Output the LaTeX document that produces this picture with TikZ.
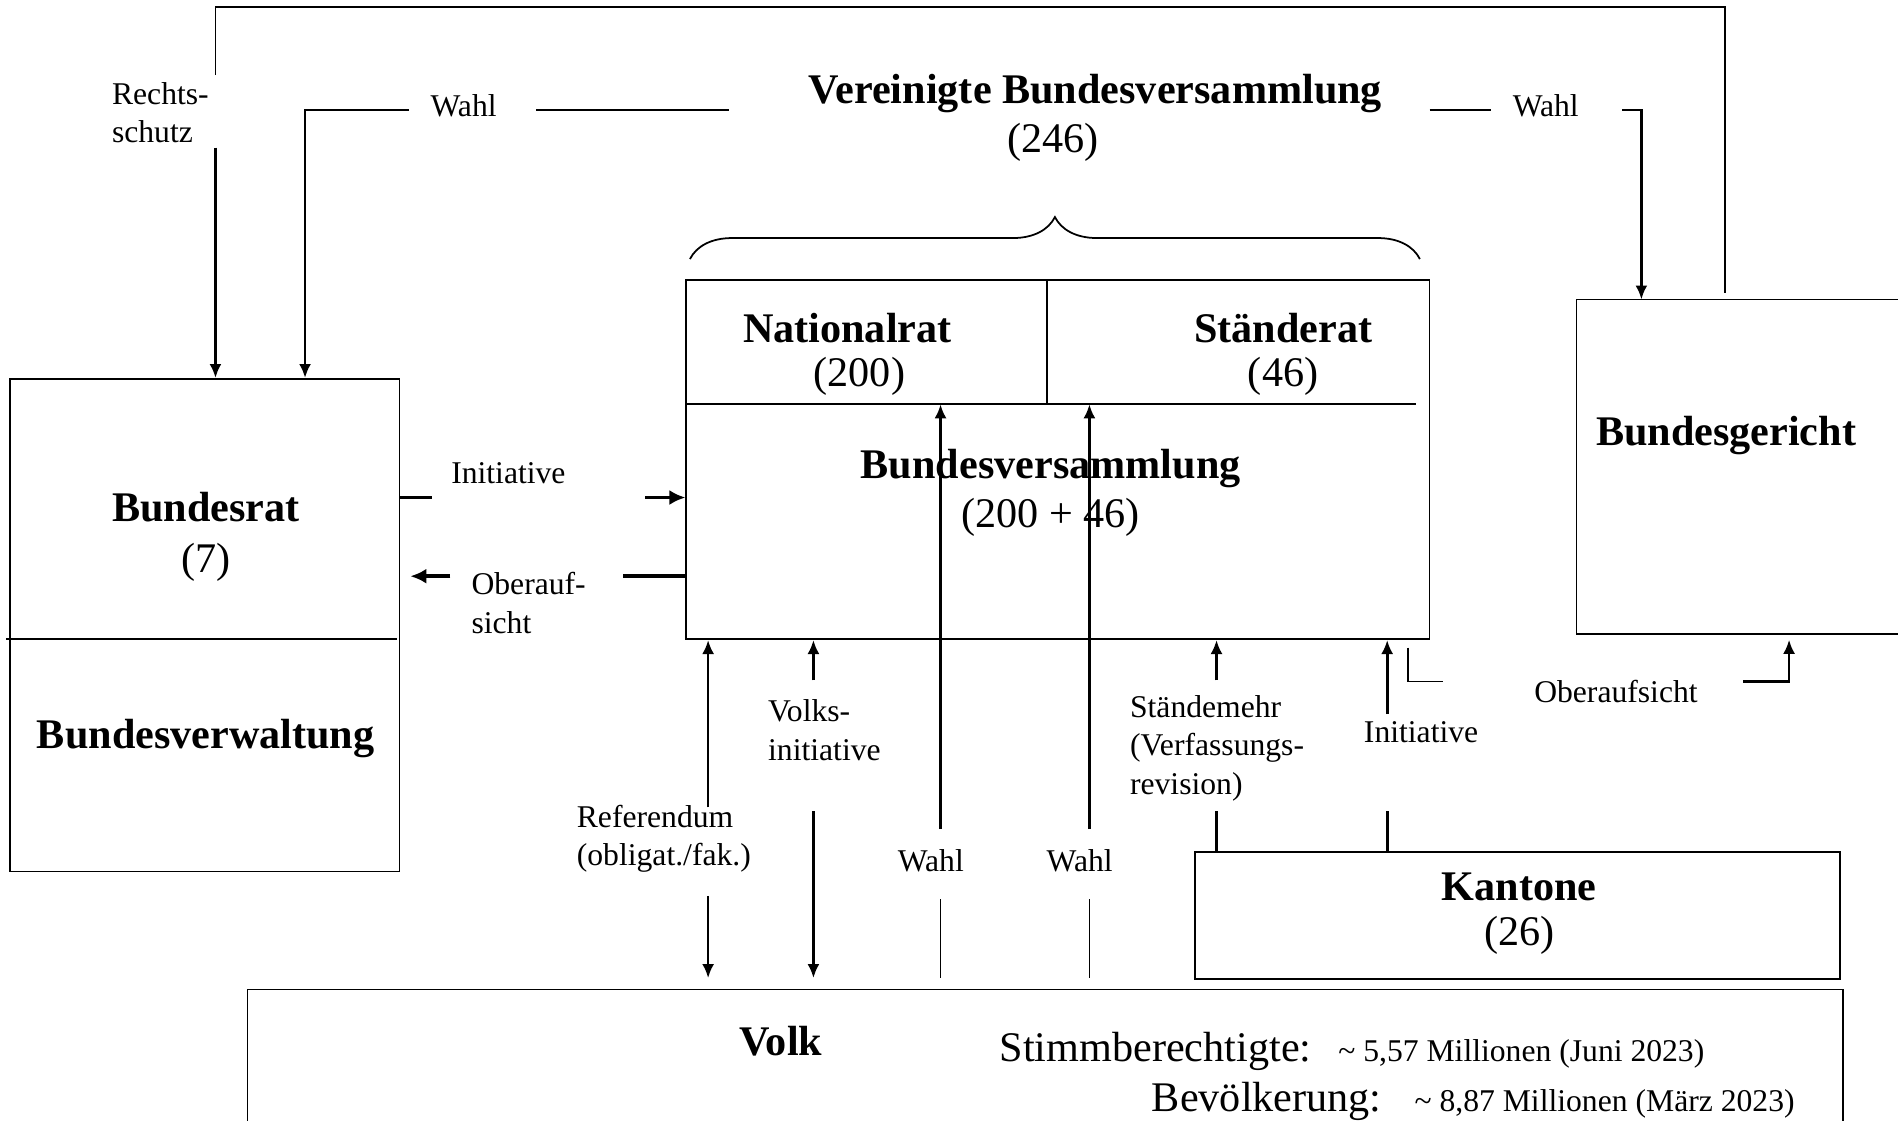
\documentclass[tikz,border=0pt]{standalone}
\usepackage{fontspec}
\setmainfont{Liberation Serif}
\usetikzlibrary{positioning}
\usetikzlibrary{arrows.meta}
\usetikzlibrary{fit}
\usetikzlibrary{decorations.pathreplacing}

\begin{document}
\begin{tikzpicture}[x=0.012105cm, y=-0.012105cm,
  box/.style={draw, line width=0.5pt, inner sep=0pt},
  titel/.style={font=\fontsize{12}{14}\selectfont\bfseries, inner sep=0pt},
  zahl/.style={font=\fontsize{12}{14}\selectfont, inner sep=0pt},
  lab/.style={font=\fontsize{9}{11}\selectfont, inner sep=0pt, align=left},
  klein/.style={font=\fontsize{9}{11}\selectfont, inner sep=0pt},
  linie/.style={line width=0.5pt},
  mittel/.style={line width=0.75pt},
  pfeil/.style={line width=0.75pt, -{Latex[length=1.4mm,width=1.2mm]}},
  dick/.style={line width=1pt},
  dpfeil/.style={line width=1pt, -{Latex[length=1.6mm,width=1.5mm]}}]
\useasboundingbox (0,0) rectangle (1568,926);
%%%%%%%%%%%%%%%%%%%%%%%%%%%%%%%%%%%%%
\node[box, fit={(8,313) (330,720)}] (brat) {};
\node[box, fit={(567,231) (1181,528)}] (bv) {};
\node[inner sep=0pt, fit={(1303,248) (1568,523)}] (bger) {};
\node[box, fit={(987,704) (1520,809)}] (kant) {};
\node[inner sep=0pt, fit={(205,818) (1522,926)}] (volk) {};
%%%%%%%%%%%%%%%%%%%%%%%%%%%%%%%%%%%%%
\node[titel] (tbrat) at (170,419) {Bundesrat};
\node[zahl, below=0.2cm of tbrat] (zbrat) {(7)};
\node[titel] (tbverw) at (170,610) {Bundesverwaltung};
\node[titel] (tnr) at (700,271) {Nationalrat};
\node[zahl] (znr) at (710,311) {(200)};
\node[titel] (tsr) at (1060,271) {Ständerat};
\node[zahl] (zsr) at (1060,311) {(46)};
\node[titel] (tbv) at (868,387) {Bundesversammlung};
\node[zahl] (zbv) at (868,427) {(200 + 46)};
\node[titel] (tvbv) at (905,77) {Vereinigte Bundesversammlung};
\node[zahl] (zvbv) at (870,118) {(246)};
\node[titel] (tbger) at (1426,360) {Bundesgericht};
\node[titel] (tkant) at (1255,733) {Kantone};
\node[zahl] (zkant) at (1255,773) {(26)};
\node[titel] (tvolk) at (645,860) {Volk};
\node[zahl, anchor=base east] (tstimm) at (1084,877) {Stimmberechtigte:};
\node[klein, anchor=base west] (zstimm) at (1105,877) {\textasciitilde{} 5,57 Millionen (Juni 2023)};
\node[zahl, anchor=base east] (tbev) at (1142,918) {Bevölkerung:};
\node[klein, anchor=base west] (zbev) at (1168,918) {\textasciitilde{} 8,87 Millionen (März 2023)};
%%%%%%%%%%%%%%%%%%%%%%%%%%%%%%%%%%%%%
\node[lab, anchor=west] (lrs) at (92,93) {Rechts-\\schutz};
\node[lab] (lwahl1) at (383,87) {Wahl};
\node[lab] (lwahl2) at (1277,87) {Wahl};
\node[lab] (lini1) at (420,391) {Initiative};
\node[lab, anchor=west] (lober1) at (389,498) {Oberauf-\\sicht};
\node[lab, anchor=west] (lref) at (476,693) {Referendum\\(obligat./fak.)};
\node[lab, anchor=west] (lvi) at (634,603) {Volks-\\initiative};
\node[lab] (lwahl3) at (769,711) {Wahl};
\node[lab] (lwahl4) at (892,711) {Wahl};
\node[lab, anchor=west] (lstm) at (933,618) {Ständemehr\\(Verfassungs-\\revision)};
\node[lab] (lini2) at (1174,605) {Initiative};
\node[lab] (lober2) at (1335,571) {Oberaufsicht};
%%%%%%%%%%%%%%%%%%%%%%%%%%%%%%%%%%%%%
\coordinate (rsa) at (178,62);
\coordinate (rsl) at (178,6);
\coordinate (rsr) at (1425,6);
\coordinate (rsb) at (1425,242);
\coordinate (rsc) at (178,122);
\coordinate (wla) at (602,91);
\coordinate (wlb) at (443,91);
\coordinate (wlc) at (338,91);
\coordinate (wld) at (252,91);
\coordinate (wra) at (1181,91);
\coordinate (wrb) at (1232,91);
\coordinate (wrc) at (1340,91);
\coordinate (wrd) at (1356,91);
\coordinate (ini1a) at (357,411);
\coordinate (ini1b) at (533,411);
\coordinate (ober1a) at (515,476);
\coordinate (ober1b) at (372,476);
\coordinate (refa) at (585,667);
\coordinate (refb) at (585,740);
\coordinate (via) at (672,562);
\coordinate (vib) at (672,670);
\coordinate (wnra) at (777,685);
\coordinate (wnrb) at (777,743);
\coordinate (wsra) at (900,685);
\coordinate (wsrb) at (900,743);
\coordinate (stma) at (1005,562);
\coordinate (stmb) at (1005,670);
\coordinate (ini2a) at (1146,590);
\coordinate (ini2b) at (1146,670);
\coordinate (ober2a) at (1163,535);
\coordinate (ober2b) at (1163,563);
\coordinate (ober2c) at (1192,563);
\coordinate (ober2d) at (1440,563);
\coordinate (ober2e) at (1478,563);
\coordinate (nrunten) at (0,334);
\coordinate (ende) at (0,808);
%%%%%%%%%%%%%%%%%%%%%%%%%%%%%%%%%%%%%
\draw[linie] (5,528) -- (328,528);
\draw[linie] (865,231) -- (865,334);
\draw[linie] (567,334) -- (1170,334);
\draw[linie] (bger.north east) -- (bger.north west) -- (bger.south west) -- (bger.south east);
\draw[linie] (volk.south west) -- (volk.north west) -- (volk.north east) -- (volk.south east);
\draw[line width=0.5pt, decorate, decoration={brace, amplitude=0.42cm}] (570,214) -- (1173,214);
%%%%%%%%%%%%%%%%%%%%%%%%%%%%%%%%%%%%%
\draw[linie] (rsa) -- (rsl) -- (rsr) -- (rsb);
\draw[pfeil] (rsc) -- (rsc |- brat.north);
\draw[linie] (wla) -- (wlb);
\draw[pfeil] (wlc) -- (wld) -- (wld |- brat.north);
\draw[linie] (wra) -- (wrb);
\draw[pfeil] (wrc) -- (wrd) -- (wrd |- bger.north);
%%%%%%%%%%%%%%%%%%%%%%%%%%%%%%%%%%%%%
\draw[dick] (ini1a -| brat.east) -- (ini1a);
\draw[dpfeil] (ini1b) -- (ini1b -| bv.west);
\draw[dick] (ober1a -| bv.west) -- (ober1a);
\draw[dpfeil] (ober1b) -- ([xshift=0.1cm]ober1b -| brat.east);
%%%%%%%%%%%%%%%%%%%%%%%%%%%%%%%%%%%%%
\draw[pfeil] (refa) -- (refa |- bv.south);
\draw[pfeil] (refb) -- (refb |- ende);
\draw[pfeil] (via) -- (via |- bv.south);
\draw[pfeil] (vib) -- (vib |- ende);
\draw[pfeil] (wnra) -- (wnra |- nrunten);
\draw[linie] (wnrb) -- (wnrb |- ende);
\draw[pfeil] (wsra) -- (wsra |- nrunten);
\draw[linie] (wsrb) -- (wsrb |- ende);
\draw[pfeil] (stma) -- (stma |- bv.south);
\draw[mittel] (stmb) -- (stmb |- kant.north);
\draw[pfeil] (ini2a) -- (ini2a |- bv.south);
\draw[mittel] (ini2b) -- (ini2b |- kant.north);
\draw[linie] (ober2a) -- (ober2b) -- (ober2c);
\draw[pfeil] (ober2d) -- (ober2e) -- ([yshift=-0.06cm]ober2e |- bger.south);
\end{tikzpicture}
\end{document}
